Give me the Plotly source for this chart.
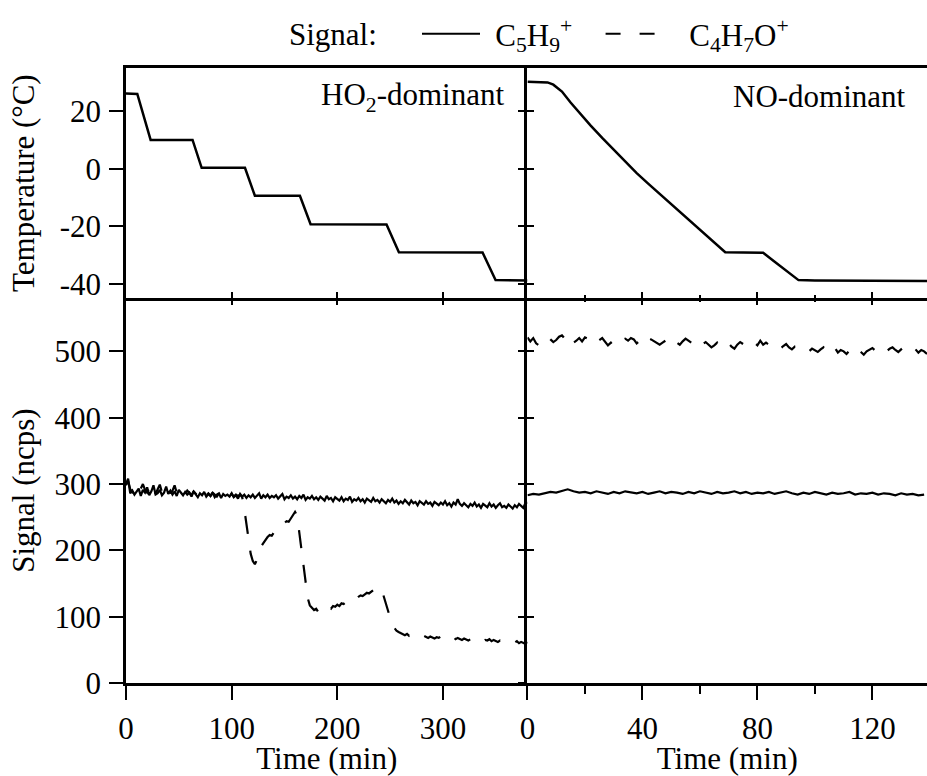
import plotly.graph_objects as go

FONT = "Liberation Serif"
FS = 31

# ---------------- data ----------------
# HO2-dominant run: chamber temperature (corner points of the staircase)
ho2_temp_t = [0, 10.7, 23.3, 63, 71.6, 112.6, 122, 164.6, 174.7, 246.6, 258.3, 337.5, 349.8, 380]
ho2_temp = [26.1, 26.0, 10.0, 10.0, 0.3, 0.3, -9.4, -9.4, -19.3, -19.4, -29.0, -29.1, -38.7, -38.8]

# NO-dominant run: chamber temperature
no_temp_t = [0, 7, 9, 12, 15, 18, 22, 26, 30, 34, 36.3, 38, 42, 46, 50, 55, 60, 65, 68.8,
             75, 82, 86, 90, 94.3, 100, 110, 120, 130, 139]
no_temp = [30.2, 30.0, 29.2, 26.8, 23.0, 19.5, 15.0, 10.7, 6.6, 2.4, 0.3, -1.5, -5.2, -8.7,
           -12.2, -16.6, -21.0, -25.5, -29.0, -29.1, -29.2, -32.3, -35.5, -38.7, -38.8,
           -38.9, -38.9, -39.0, -39.0]

# HO2-dominant run signals, sampled every 2 min (0..380)
ho2_sig_t = list(range(0, 381, 2))
ho2_c5h9 = [
    300, 308, 286, 290, 284, 288, 293, 282, 291, 287,
    295, 283, 289, 298, 284, 286, 291, 283, 287, 296,
    285, 290, 284, 289, 282, 291, 286, 283, 288, 284,
    287, 281, 289, 284, 280, 286, 283, 288, 281, 285,
    282, 287, 280, 284, 286, 279, 285, 282, 284, 281,
    286, 280, 283, 278, 285, 281, 284, 279, 283, 280,
    284, 279, 282, 286, 278, 283, 280, 284, 279, 282,
    280, 283, 278, 282, 285, 277, 281, 279, 283, 278,
    281, 277, 282, 279, 284, 276, 280, 278, 282, 277,
    280, 276, 281, 278, 275, 282, 277, 279, 274, 280,
    277, 275, 280, 274, 278, 276, 281, 273, 277, 275,
    279, 274, 277, 272, 278, 275, 273, 279, 274, 276,
    272, 277, 274, 271, 276, 273, 278, 272, 275, 270,
    274, 271, 276, 272, 269, 275, 271, 273, 268, 274,
    271, 269, 274, 270, 272, 267, 273, 270, 268, 272,
    269, 274, 268, 271, 266, 272, 269, 277, 270, 267,
    271, 268, 265, 270, 267, 272, 266, 269, 264, 270,
    268, 265, 271, 266, 269, 264, 268, 271, 265, 267,
    264, 269, 266, 263, 268, 265, 270, 267, 264, 271,
    272,
]
ho2_c4h7o = [
    298, 305, 292, 288, 295, 290, 286, 293, 300, 291,
    287, 294, 289, 296, 285, 292, 299, 288, 284, 291,
    295, 286, 290, 298, 287, 284, 292, 289, 285, 290,
    287, 283, 289, 286, 282, 288, 284, 287, 283, 286,
    282, 287, 284, 281, 286, 283, 285, 281, 284, 282,
    285, 281, 284, 282, 284,
    280, 262, 238, 212, 195, 184, 179, 186, 198, 206,
    211, 216, 220, 223, 222, 227, 231, 234, 233, 238,
    241, 244, 243, 248, 253, 258, 252, 228, 200, 172,
    148, 128, 117, 113, 110, 112, 107, 109, 111, 108,
    112, 114, 112, 116, 115, 118, 116, 120, 119, 122,
    124, 122, 126, 128, 127, 130, 132, 131, 134, 136,
    135, 138, 140, 139, 142, 144, 141, 130, 118, 106,
    96, 88, 83, 79, 77, 75,
    74, 72, 74, 71, 73, 72, 70, 72, 71, 69,
    71, 70, 68, 70, 69, 67, 69, 68, 70, 67,
    68, 66, 68, 67, 69, 66, 68, 67, 65, 67,
    66, 64, 66, 65, 67, 64, 66, 65, 63, 65,
    64, 66, 63, 65, 64, 62, 64, 63, 61, 63,
    62, 60, 62, 61, 63, 60, 62, 61, 59, 62,
]

# NO-dominant run signals
no_c5h9_t = list(range(0, 139, 2))
no_c5h9 = [
    283, 285, 284, 286, 288, 287, 290, 292, 289, 287,
    288, 286, 289, 287, 285, 288, 286, 289, 287, 286,
    288, 285, 287, 289, 286, 288, 287, 285, 288, 286,
    289, 287, 285, 288, 286, 287, 289, 286, 288, 285,
    287, 286, 288, 285, 287, 289, 286, 284, 287, 285,
    288, 286, 284, 287, 285, 286, 288, 284, 286, 285,
    287, 284, 286, 285, 283, 286, 284, 285, 283, 284,
]
no_c4h7o_t = list(range(0, 140))
no_c4h7o = [
    521, 515, 520, 512, 509, 516, 519, 522, 518, 514,
    517, 522, 524, 519, 525, 518, 513, 516, 520, 515,
    521, 519, 515, 510, 512, 517, 520, 514, 509, 513,
    507, 510, 514, 517, 519, 516, 520, 518, 512, 516,
    519, 514, 520, 518, 515, 512, 510, 513, 516, 511,
    514, 518, 513, 510, 515, 519, 516, 513, 517, 512,
    515, 511, 514, 510, 506, 509, 513, 508, 505, 509,
    512, 507, 504, 510, 514, 511, 508, 512, 516, 513,
    509, 516, 510, 513, 510, 509, 512, 507, 504, 508,
    511, 506, 503, 507, 504, 502, 505, 503, 500, 504,
    502, 499, 503, 506, 500, 497, 502, 505, 498, 502,
    500, 496, 501, 504, 498, 502, 499, 495, 500, 503,
    505, 501, 504, 507, 503, 500, 504, 506, 502, 499,
    503, 507, 505, 509, 506, 503, 498, 502, 500, 496,
]

left_xticks = [0, 100, 200, 300]
right_xticks = [0, 40, 80, 120]
right_minor = [20, 60, 100, 140]
temp_ticks = [-40, -20, 0, 20]
temp_ticktext = ["-40", "-20", "0", "20"]
sig_ticks = [0, 100, 200, 300, 400, 500]

LEFT_RANGE = [0, 380]
RIGHT_RANGE = [0, 139]
TEMP_RANGE = [-45, 35]
SIG_RANGE = [0, 580]

XSPLIT = 0.5012
YSPLIT = 0.6256

DATA_DASH = "18px,17px"
KEY_DASH = "15px,19px"

NB = "\u00a0"
GAP1 = NB + "\u200a"                      # space between key line and its label
GAP2 = NB + "\u200a" + NB + "\u200a"
SEP = "\u2002" + NB                       # space between the two legend entries

# ---------------- figure ----------------
fig = go.Figure()
blk = "black"

fig.add_trace(go.Scatter(x=ho2_temp_t, y=ho2_temp, mode="lines", xaxis="x", yaxis="y",
                         line=dict(color=blk, width=2.5), showlegend=False))
fig.add_trace(go.Scatter(x=no_temp_t, y=no_temp, mode="lines", xaxis="x2", yaxis="y2",
                         line=dict(color=blk, width=2.5), showlegend=False))
fig.add_trace(go.Scatter(x=ho2_sig_t, y=ho2_c4h7o, mode="lines", xaxis="x3", yaxis="y3",
                         line=dict(color=blk, width=2.2, dash=DATA_DASH), showlegend=False))
fig.add_trace(go.Scatter(x=ho2_sig_t, y=ho2_c5h9, mode="lines", xaxis="x3", yaxis="y3",
                         line=dict(color=blk, width=2.2), showlegend=False))
fig.add_trace(go.Scatter(x=no_c4h7o_t, y=no_c4h7o, mode="lines", xaxis="x4", yaxis="y4",
                         line=dict(color=blk, width=2.2, dash=DATA_DASH), showlegend=False))
fig.add_trace(go.Scatter(x=no_c5h9_t, y=no_c5h9, mode="lines", xaxis="x4", yaxis="y4",
                         line=dict(color=blk, width=2.2), showlegend=False))

# legend keys
fig.add_trace(go.Scatter(x=[None], y=[None], mode="lines", xaxis="x3", yaxis="y3",
                         name=GAP1 + "C<sub>5</sub>H<sub>9</sub><sup>+</sup>" + SEP,
                         line=dict(color=blk, width=2)))
fig.add_trace(go.Scatter(x=[None], y=[None], mode="lines", xaxis="x3", yaxis="y3",
                         name=GAP2 + "C<sub>4</sub>H<sub>7</sub>O<sup>+</sup>",
                         line=dict(color=blk, width=2, dash=KEY_DASH)))

# empty traces so the tick-only overlay axes get drawn
for xa, ya in [("x5", "y3"), ("x6", "y4"), ("x2", "y5"), ("x4", "y6")]:
    fig.add_trace(go.Scatter(x=[None], y=[None], mode="lines", xaxis=xa, yaxis=ya,
                             showlegend=False, hoverinfo="skip"))

tickfont = dict(family=FONT, size=FS, color=blk)
base = dict(showline=True, linecolor=blk, linewidth=2.5, tickcolor=blk, tickwidth=2,
            showgrid=False, zeroline=False, tickfont=tickfont, ticklabelstandoff=2)
minor_in = dict(ticks="inside", ticklen=4, tickwidth=2, tickcolor=blk,
                tickmode="array", tickvals=right_minor)
minor_out = dict(ticks="outside", ticklen=8, tickwidth=2, tickcolor=blk,
                 tickmode="array", tickvals=right_minor)
overlay = dict(showline=False, showgrid=False, zeroline=False, ticks="inside", ticklen=7,
               tickwidth=2, tickcolor=blk, showticklabels=False, tickmode="array")

fig.update_layout(
    width=927, height=776,
    margin=dict(l=126, r=0, t=68, b=93),
    paper_bgcolor="white", plot_bgcolor="white",
    font=dict(family=FONT, size=FS, color=blk),
    xaxis=dict(base, domain=[0, XSPLIT], anchor="y", range=LEFT_RANGE,
               tickmode="array", tickvals=left_xticks, showticklabels=False,
               ticks="inside", ticklen=7, mirror=True),
    xaxis2=dict(base, domain=[XSPLIT, 1], anchor="y2", range=RIGHT_RANGE,
                tickmode="array", tickvals=right_xticks, showticklabels=False,
                ticks="inside", ticklen=7, mirror=True, minor=minor_in),
    xaxis3=dict(base, domain=[0, XSPLIT], anchor="y3", range=LEFT_RANGE,
                tickmode="array", tickvals=left_xticks, ticks="outside", ticklen=14,
                title=dict(text="Time (min)", font=dict(family=FONT, size=FS), standoff=0)),
    xaxis4=dict(base, domain=[XSPLIT, 1], anchor="y4", range=RIGHT_RANGE,
                tickmode="array", tickvals=right_xticks, ticks="outside", ticklen=14,
                minor=minor_out,
                title=dict(text="Time (min)", font=dict(family=FONT, size=FS), standoff=0)),
    xaxis5=dict(overlay, overlaying="x3", anchor="y3", side="top", range=LEFT_RANGE,
                tickvals=left_xticks),
    xaxis6=dict(overlay, overlaying="x4", anchor="y4", side="top", range=RIGHT_RANGE,
                tickvals=right_xticks, minor=minor_in),
    yaxis=dict(base, domain=[YSPLIT, 1], anchor="x", range=TEMP_RANGE,
               tickmode="array", tickvals=temp_ticks, ticktext=temp_ticktext,
               ticks="outside", ticklen=14,
               title=dict(text="Temperature (°C)", font=dict(family=FONT, size=FS), standoff=16)),
    yaxis2=dict(base, domain=[YSPLIT, 1], anchor="x2", range=TEMP_RANGE,
                tickmode="array", tickvals=temp_ticks, showticklabels=False,
                ticks="outside", ticklen=7),
    yaxis3=dict(base, domain=[0, YSPLIT], anchor="x3", range=SIG_RANGE,
                tickmode="array", tickvals=sig_ticks, ticks="outside", ticklen=14,
                title=dict(text="Signal (ncps)", font=dict(family=FONT, size=FS), standoff=11)),
    yaxis4=dict(base, domain=[0, YSPLIT], anchor="x4", range=SIG_RANGE,
                tickmode="array", tickvals=sig_ticks, showticklabels=False,
                ticks="outside", ticklen=7),
    yaxis5=dict(overlay, overlaying="y2", anchor="x2", side="left", range=TEMP_RANGE,
                tickvals=temp_ticks),
    yaxis6=dict(overlay, overlaying="y4", anchor="x4", side="left", range=SIG_RANGE,
                tickvals=sig_ticks),
    legend=dict(orientation="h", x=(417 - 126) / 801, y=1.055, xanchor="left",
                yanchor="middle", font=dict(family=FONT, size=FS, color=blk), itemwidth=58,
                bgcolor="rgba(0,0,0,0)", tracegroupgap=0),
    annotations=[
        dict(text="Signal:", xref="paper", yref="paper", x=(287 - 126) / 801, y=1.055,
             xanchor="left", yanchor="middle", showarrow=False,
             font=dict(family=FONT, size=FS, color=blk)),
        dict(text="HO<sub>2</sub>-dominant", xref="x domain", yref="y domain",
             x=0.946, y=0.875, xanchor="right", yanchor="middle", showarrow=False,
             font=dict(family=FONT, size=FS, color=blk)),
        dict(text="NO-dominant", xref="x2 domain", yref="y2 domain",
             x=0.952, y=0.875, xanchor="right", yanchor="middle", showarrow=False,
             font=dict(family=FONT, size=FS, color=blk)),
    ],
)

fig.write_html("out.html")
